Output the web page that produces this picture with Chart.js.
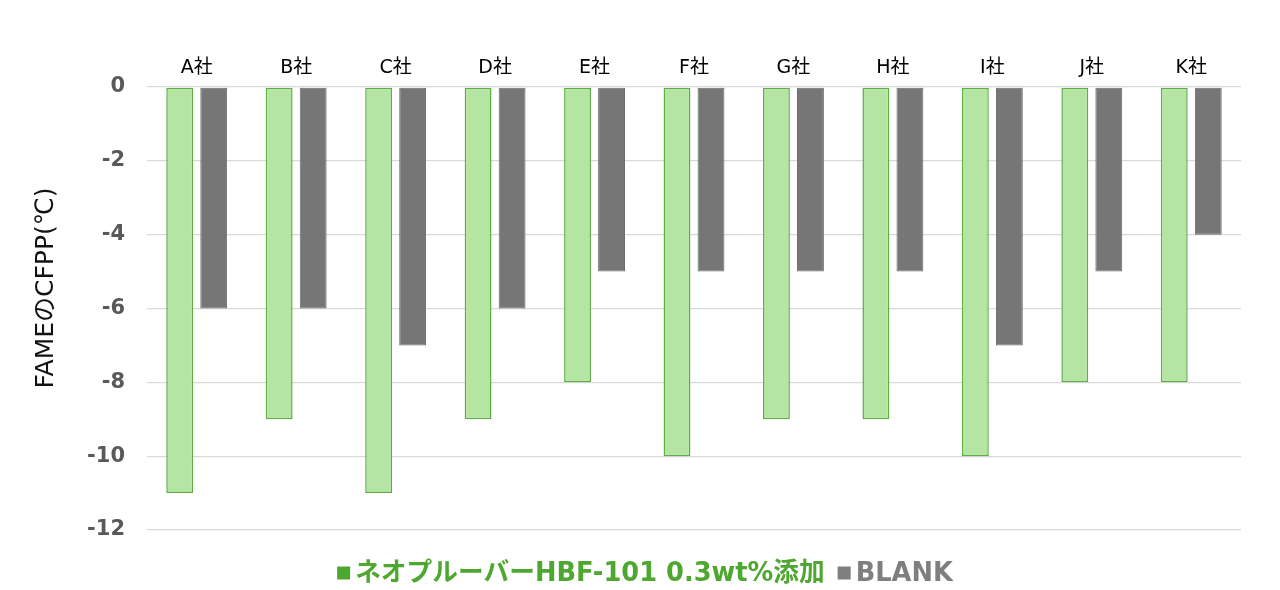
<!DOCTYPE html>
<html>
<head>
<meta charset="utf-8">
<script src="https://cdn.jsdelivr.net/npm/chart.js@4"></script>
<style>
  html, body { margin: 0; padding: 0; background: #fff; }
  #wrap { width: 1280px; height: 590px; }
</style>
</head>
<body>
<div id="wrap"><canvas id="myChart" width="1280" height="590"></canvas></div>
<script>
var Companies = ['A社','B社','C社','D社','E社','F社','G社','H社','I社','J社','K社'];
var Additive = [-11,-9,-11,-9,-8,-10,-9,-9,-10,-8,-8];
var Blank = [-6,-6,-7,-6,-5,-5,-5,-5,-7,-5,-4];
var YTicks = [0,-2,-4,-6,-8,-10,-12];
var YTitle = 'FAMEのCFPP(℃)';
var LegendColors = ['#4ea72e', '#7f7f7f'];

var fam = '"DejaVu Sans", "Noto Sans CJK JP", sans-serif';
var ctx = document.getElementById('myChart');

// legend and y title drawn by hand so gaps/offsets match the original
var extras = {
  id: 'extras',
  afterDraw: function(chart) {
    var c = chart.ctx;
    var ds = chart.data.datasets;
    c.save();
    c.font = 'bold 25.7px ' + fam;
    c.textBaseline = 'middle';
    var box = 13, gap = 5, sep = 13;
    var widths = ds.map(function(d) { return c.measureText(d.label).width; });
    var total = 0;
    widths.forEach(function(w, i) { total += box + gap + w + (i ? sep : 0); });
    var x = chart.width / 2 - total / 2 + 5;
    var y = 573;
    ds.forEach(function(d, i) {
      c.fillStyle = LegendColors[i];
      c.fillRect(x, y - box / 2, box, box);
      c.fillText(d.label, x + box + gap, y + 1);
      x += box + gap + widths[i] + sep;
    });
    c.restore();

    c.save();
    c.translate(46, 288);
    c.rotate(-Math.PI / 2);
    c.font = '25px ' + fam;
    c.fillStyle = '#111';
    c.textAlign = 'center';
    c.textBaseline = 'middle';
    c.fillText(YTitle, 0, 0);
    c.restore();
  }
};

var myChart = new Chart(ctx, {
  type: 'bar',
  data: {
    labels: Companies,
    datasets: [{
      label: 'ネオプルーバーHBF-101 0.3wt%添加',
      backgroundColor: '#b5e5a2',
      borderColor: '#5daf45',
      borderWidth: 1.5,
      borderSkipped: false,
      data: Additive
    }, {
      label: 'BLANK',
      backgroundColor: '#767676',
      borderColor: '#6a6a6a',
      borderWidth: 1,
      borderSkipped: false,
      data: Blank
    }]
  },
  options: {
    responsive: false,
    animation: false,
    categoryPercentage: 0.684,
    barPercentage: 0.79,
    layout: { padding: { left: 0, right: 39, top: 53, bottom: 60 } },
    plugins: {
      tooltip: { enabled: false },
      legend: { display: false }
    },
    scales: {
      x: {
        position: 'top',
        grid: { display: false, drawTicks: false },
        border: { display: false },
        ticks: { color: '#000', font: { family: fam, size: 19 }, padding: 8 },
        afterFit: function(axis) { axis.height = 34; }
      },
      y: {
        min: -12,
        max: 0,
        afterBuildTicks: function(axis) {
          axis.ticks = YTicks.map(function(v) { return { value: v }; });
        },
        afterFit: function(axis) { axis.width = 147; },
        grid: { color: '#d9d9d9', lineWidth: 1.3, drawTicks: false },
        border: { display: false },
        ticks: { color: '#595959', font: { family: fam, size: 21, weight: 'bold' }, padding: 22 }
      }
    }
  },
  plugins: [extras]
});
</script>
</body>
</html>
